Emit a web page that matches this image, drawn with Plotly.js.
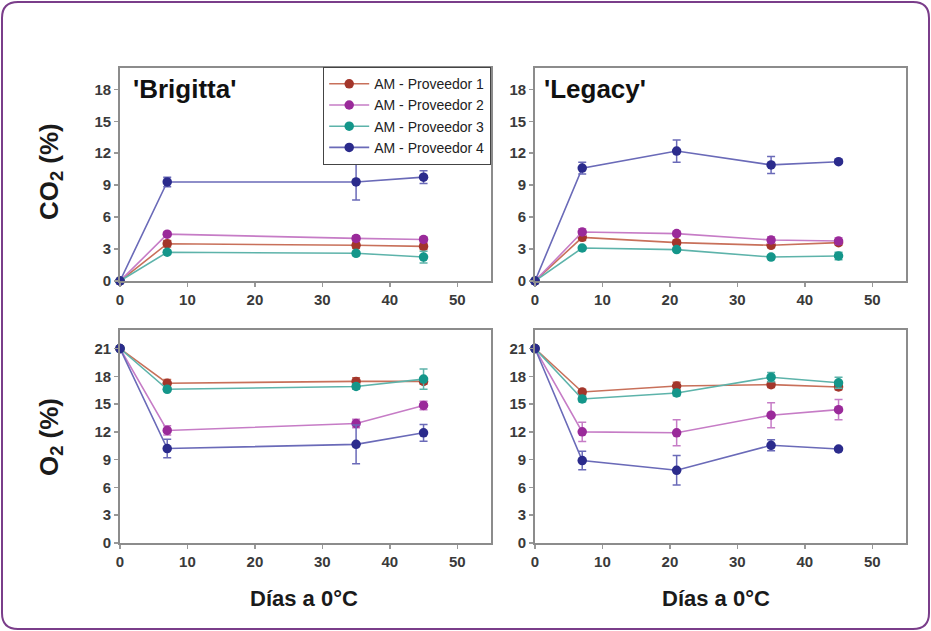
<!DOCTYPE html>
<html>
<head>
<meta charset="utf-8">
<script src="https://cdn.plot.ly/plotly-3.0.1.min.js"></script>
<style>html,body{margin:0;padding:0;background:#fff;}#chart{width:931px;height:631px;}</style>
</head>
<body>
<div id="chart"></div>
<script>
// ---- data ----
var seriesNames = ["AM - Proveedor 1", "AM - Proveedor 2", "AM - Proveedor 3", "AM - Proveedor 4"];
var daysBrigitta = [0, 7, 35, 45];
var daysLegacy = [0, 7, 21, 35, 45];

var co2BrigittaP1 = [0, 3.5, 3.35, 3.25];
var co2BrigittaP2 = [0, 4.4, 4.0, 3.9];
var co2BrigittaP3 = [0, 2.7, 2.6, 2.25];
var co2BrigittaP4 = [0, 9.3, 9.3, 9.75];
var co2BrigittaErrP1 = [0, 0.3, 0.3, 0.3];
var co2BrigittaErrP2 = [0, 0.2, 0.25, 0.25];
var co2BrigittaErrP3 = [0, 0.2, 0.2, 0.55];
var co2BrigittaErrP4 = [0, 0.45, 1.7, 0.6];

var co2LegacyP1 = [0, 4.1, 3.6, 3.35, 3.6];
var co2LegacyP2 = [0, 4.6, 4.45, 3.85, 3.75];
var co2LegacyP3 = [0, 3.1, 2.95, 2.25, 2.35];
var co2LegacyP4 = [0, 10.6, 12.2, 10.9, 11.2];
var co2LegacyErrP1 = [0, 0.3, 0.2, 0.2, 0.2];
var co2LegacyErrP2 = [0, 0.3, 0.2, 0.3, 0.3];
var co2LegacyErrP3 = [0, 0.15, 0.15, 0.15, 0.35];
var co2LegacyErrP4 = [0, 0.55, 1.05, 0.8, 0.15];

var o2BrigittaP1 = [21, 17.25, 17.45, 17.45];
var o2BrigittaP2 = [21, 12.15, 12.9, 14.85];
var o2BrigittaP3 = [21, 16.6, 16.9, 17.7];
var o2BrigittaP4 = [21, 10.2, 10.65, 11.9];
var o2BrigittaErrP1 = [0, 0.4, 0.4, 0.3];
var o2BrigittaErrP2 = [0, 0.5, 0.45, 0.45];
var o2BrigittaErrP3 = [0, 0.2, 0.3, 1.1];
var o2BrigittaErrP4 = [0, 1.0, 2.1, 0.9];

var o2LegacyP1 = [21, 16.3, 16.95, 17.1, 16.85];
var o2LegacyP2 = [21, 12.0, 11.9, 13.8, 14.4];
var o2LegacyP3 = [21, 15.55, 16.2, 17.9, 17.3];
var o2LegacyP4 = [21, 8.9, 7.85, 10.55, 10.15];
var o2LegacyErrP1 = [0, 0.3, 0.4, 0.3, 0.3];
var o2LegacyErrP2 = [0, 1.05, 1.4, 1.35, 1.1];
var o2LegacyErrP3 = [0, 0.3, 0.3, 0.5, 0.6];
var o2LegacyErrP4 = [0, 1.0, 1.6, 0.6, 0.2];

var xTicks = [0, 10, 20, 30, 40, 50];
var co2Ticks = [0, 3, 6, 9, 12, 15, 18];
var o2Ticks = [0, 3, 6, 9, 12, 15, 18, 21];

// ---- styles ----
var markerColors = ["#a3362b", "#9a2a9a", "#14968a", "#2b2b8c"];
var lineColors = ["#c8705a", "#c67cc6", "#5db3aa", "#6a6ab8"];

function mk(x, y, err, i, xa, ya, showLeg) {
  return {
    type: "scatter", mode: "lines+markers", x: x, y: y,
    name: seriesNames[i], legendgroup: "g" + i, showlegend: showLeg,
    xaxis: xa, yaxis: ya, cliponaxis: false,
    line: {color: lineColors[i], width: 1.6},
    marker: {color: markerColors[i], size: 9.5, line: {width: 0}},
    error_y: {type: "data", array: err, visible: true, color: lineColors[i], thickness: 1.5, width: 4}
  };
}

var traces = [
  mk(daysBrigitta, co2BrigittaP1, co2BrigittaErrP1, 0, "x", "y", true),
  mk(daysBrigitta, co2BrigittaP2, co2BrigittaErrP2, 1, "x", "y", true),
  mk(daysBrigitta, co2BrigittaP3, co2BrigittaErrP3, 2, "x", "y", true),
  mk(daysBrigitta, co2BrigittaP4, co2BrigittaErrP4, 3, "x", "y", true),
  mk(daysLegacy, co2LegacyP1, co2LegacyErrP1, 0, "x2", "y2", false),
  mk(daysLegacy, co2LegacyP2, co2LegacyErrP2, 1, "x2", "y2", false),
  mk(daysLegacy, co2LegacyP3, co2LegacyErrP3, 2, "x2", "y2", false),
  mk(daysLegacy, co2LegacyP4, co2LegacyErrP4, 3, "x2", "y2", false),
  mk(daysBrigitta, o2BrigittaP1, o2BrigittaErrP1, 0, "x3", "y3", false),
  mk(daysBrigitta, o2BrigittaP2, o2BrigittaErrP2, 1, "x3", "y3", false),
  mk(daysBrigitta, o2BrigittaP3, o2BrigittaErrP3, 2, "x3", "y3", false),
  mk(daysBrigitta, o2BrigittaP4, o2BrigittaErrP4, 3, "x3", "y3", false),
  mk(daysLegacy, o2LegacyP1, o2LegacyErrP1, 0, "x4", "y4", false),
  mk(daysLegacy, o2LegacyP2, o2LegacyErrP2, 1, "x4", "y4", false),
  mk(daysLegacy, o2LegacyP3, o2LegacyErrP3, 2, "x4", "y4", false),
  mk(daysLegacy, o2LegacyP4, o2LegacyErrP4, 3, "x4", "y4", false)
];

var W = 931, H = 631;
function px(x) { return x / W; }
function py(y) { return 1 - y / H; }

var tickFont = {family: "Liberation Sans, Arial, sans-serif", size: 15, color: "#3a3a3a", weight: "bold"};
function xax(dom, anchor) {
  return {domain: dom, anchor: anchor, range: [0, 55], tickvals: xTicks, ticks: "outside", ticklen: 4,
    tickcolor: "#999", tickwidth: 1.5, showline: true, mirror: true, linecolor: "#8c8c8c", linewidth: 1.8,
    showgrid: false, zeroline: false, tickfont: tickFont, fixedrange: true};
}
function yax(dom, anchor, rng, tv) {
  return {domain: dom, anchor: anchor, range: rng, tickvals: tv, ticks: "outside", ticklen: 4,
    tickcolor: "#999", tickwidth: 1.5, showline: true, mirror: true, linecolor: "#8c8c8c", linewidth: 1.8,
    showgrid: false, zeroline: false, tickfont: tickFont, fixedrange: true};
}

var domL = [px(120), px(491)], domR = [px(535), px(906)];
var domT = [py(281), py(68)], domB = [py(543), py(330)];

// rounded frame path
function roundRect(x0, y0, x1, y1, r) {
  var p = "M" + px(x0 + r) + "," + py(y0);
  p += " L" + px(x1 - r) + "," + py(y0);
  p += " Q" + px(x1) + "," + py(y0) + " " + px(x1) + "," + py(y0 + r);
  p += " L" + px(x1) + "," + py(y1 - r);
  p += " Q" + px(x1) + "," + py(y1) + " " + px(x1 - r) + "," + py(y1);
  p += " L" + px(x0 + r) + "," + py(y1);
  p += " Q" + px(x0) + "," + py(y1) + " " + px(x0) + "," + py(y1 - r);
  p += " L" + px(x0) + "," + py(y0 + r);
  p += " Q" + px(x0) + "," + py(y0) + " " + px(x0 + r) + "," + py(y0) + " Z";
  return p;
}

var titleFont = {family: "Liberation Sans, Arial, sans-serif", size: 26, color: "#1a1a1a", weight: "bold"};
var panelFont = {family: "Liberation Sans, Arial, sans-serif", size: 26, color: "#111", weight: "bold"};
var xTitleFont = {family: "Liberation Sans, Arial, sans-serif", size: 22, color: "#1a1a1a", weight: "bold"};

var layout = {
  width: W, height: H, margin: {l: 0, r: 0, t: 0, b: 0},
  paper_bgcolor: "#fff", plot_bgcolor: "#fff",
  font: {family: "Liberation Sans, Arial, sans-serif"},
  xaxis: xax(domL, "y"), yaxis: yax(domT, "x", [0, 20], co2Ticks),
  xaxis2: xax(domR, "y2"), yaxis2: yax(domT, "x2", [0, 20], co2Ticks),
  xaxis3: xax(domL, "y3"), yaxis3: yax(domB, "x3", [0, 23], o2Ticks),
  xaxis4: xax(domR, "y4"), yaxis4: yax(domB, "x4", [0, 23], o2Ticks),
  showlegend: true,
  legend: {x: px(491), y: py(67), xanchor: "right", yanchor: "top", bgcolor: "#fff",
    bordercolor: "#444", borderwidth: 1.2, tracegroupgap: 0, itemwidth: 40,
    font: {family: "Liberation Sans, Arial, sans-serif", size: 14, color: "#222"}},
  shapes: [{type: "path", xref: "paper", yref: "paper", path: roundRect(2, 2, 929, 629, 16),
    line: {color: "#7a3d8a", width: 2}, fillcolor: "rgba(0,0,0,0)", layer: "below"}],
  annotations: [
    {xref: "paper", yref: "paper", x: px(131), y: py(89), xanchor: "left", yanchor: "middle",
      text: "'Brigitta'", showarrow: false, font: panelFont},
    {xref: "paper", yref: "paper", x: px(542), y: py(89), xanchor: "left", yanchor: "middle",
      text: "'Legacy'", showarrow: false, font: panelFont},
    {xref: "paper", yref: "paper", x: px(50), y: py(172), xanchor: "center", yanchor: "middle",
      text: "CO<sub>2</sub> (%)", textangle: -90, showarrow: false, font: titleFont},
    {xref: "paper", yref: "paper", x: px(50), y: py(437), xanchor: "center", yanchor: "middle",
      text: "O<sub>2</sub> (%)", textangle: -90, showarrow: false, font: titleFont},
    {xref: "paper", yref: "paper", x: px(304), y: py(598), xanchor: "center", yanchor: "middle",
      text: "Días a 0°C", showarrow: false, font: xTitleFont},
    {xref: "paper", yref: "paper", x: px(716), y: py(598), xanchor: "center", yanchor: "middle",
      text: "Días a 0°C", showarrow: false, font: xTitleFont}
  ]
};

Plotly.newPlot("chart", traces, layout, {displayModeBar: false, staticPlot: true});
</script>
</body>
</html>
